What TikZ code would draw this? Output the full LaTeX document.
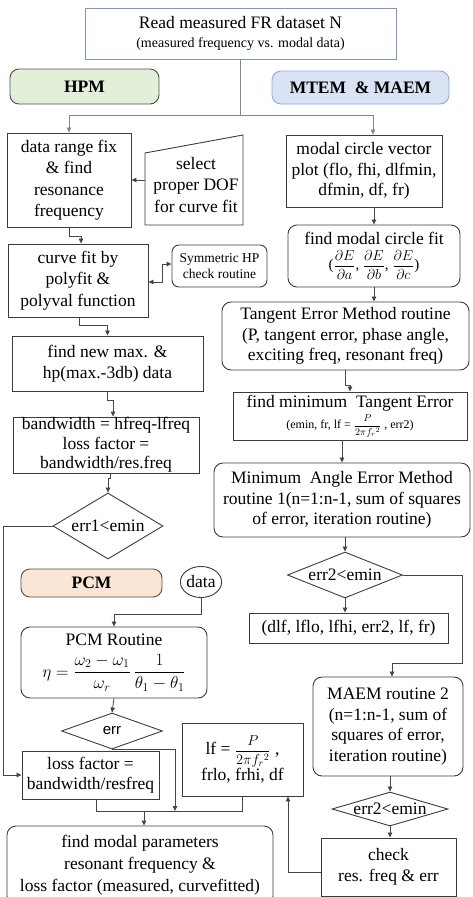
\documentclass[tikz,border=0pt]{standalone}
\usepackage{amsmath}
\usepackage{fontspec}
\setmainfont{Liberation Serif}
\newfontfamily\sansfam{Liberation Sans}
\usetikzlibrary{shapes.geometric,arrows.meta,calc}

\definecolor{topblue}{RGB}{122,150,200}
\definecolor{hpmgreen}{RGB}{226,240,217}
\definecolor{mtemblue}{RGB}{218,227,243}
\definecolor{mtemedge}{RGB}{143,170,220}
\definecolor{pcmpeach}{RGB}{251,229,214}
\definecolor{boxgray}{RGB}{60,60,60}
\definecolor{linegray}{RGB}{70,70,70}
\definecolor{topline}{RGB}{135,135,135}

\tikzset{
  sz/.style 2 args={minimum width=#1pt, minimum height=#2pt},
  box/.style={draw=boxgray, line width=0.9pt, inner sep=0pt, align=center,
              font=\fontsize{17.5}{20.5}\selectfont},
  rbox/.style={box, rounded corners=9pt},
  dia/.style={box, diamond},
  conn/.style={draw=linegray, line width=0.8pt},
  arr/.style={conn, -{Triangle[length=5pt,width=4.5pt]}},
  arrboth/.style={conn, {Triangle[length=5pt,width=4.5pt]}-{Triangle[length=5pt,width=4.5pt]}},
  small/.style={font=\fontsize{13.5}{16}\selectfont},
}

\begin{document}
\begin{tikzpicture}[x=1pt,y=-1pt]
\useasboundingbox (0,0) rectangle (473,897);

% ---------- header ----------
\node[box, draw=topblue, sz={311}{51}] (top) at (240.5,33.5)
  {Read measured FR dataset N\\[-1pt]{\fontsize{14}{16}\selectfont (measured frequency vs. modal data)}};
\node[rbox, fill=hpmgreen, draw=boxgray!90, sz={149}{35}] (hpm) at (84.5,86.5) {\textbf{HPM}};
\node[rbox, fill=mtemblue, draw=mtemedge, sz={177}{33}] (mtem) at (360.5,87.5) {\textbf{MTEM\ \ \& MAEM}};

% ---------- half power method (left) ----------
\node[box, sz={124}{94}, font=\fontsize{17.5}{21.5}\selectfont] (dr) at (69,180)
  {data range fix\\\& find\\resonance\\frequency};
\draw[box] (145,153) -- (243,135) -- (243,225) -- (145,225) -- cycle;
\node[align=center, inner sep=0pt, font=\fontsize{17.5}{21.5}\selectfont] (sel) at (196,185)
  {select\\proper DOF\\for curve fit};
\coordinate (selw) at (145,180);
\node[box, sz={140}{73}, font=\fontsize{17.5}{21.5}\selectfont] (cf) at (78,280.5)
  {curve fit by\\polyfit \&\\polyval function};
\node[rbox, small, sz={95}{42}, rounded corners=7pt] (sym) at (219.5,266) {Symmetric HP\\check routine};
\node[box, sz={191}{55}] (nm) at (107.5,363.5) {find new max. \&\\hp(max.-3db) data};
\node[box, sz={186}{56}, font=\fontsize{17.5}{19.5}\selectfont] (bw) at (106,445)
  {bandwidth = hfreq-lfreq\\loss factor =\\bandwidth/res.freq};
\node[dia, sz={110}{66}, shape aspect=1.67] (d1) at (108,526) {err1<emin};

% ---------- phase change method ----------
\node[rbox, fill=pcmpeach, draw=boxgray!90, sz={141}{28}] (pcm) at (91.5,583) {\textbf{PCM}};
\node[box, ellipse, sz={40}{31}] (data) at (201,582) {data};
\node[rbox, sz={186}{71}] (pcmr) at (114,662.5)
  {PCM Routine\\[8pt]{\fontsize{18.5}{22}\selectfont
   $\eta = \dfrac{\omega_2-\omega_1}{\omega_r}\,\dfrac{1}{\theta_1-\theta_1}$}};
\node[dia, sz={101}{36}, shape aspect=2.8, font=\sansfam\fontsize{15}{17}\selectfont] (err) at (112,731) {err};
\node[box, sz={137}{48}] (lfac) at (90.5,775) {loss factor =\\bandwidth/resfreq};
\node[box, sz={121}{73}] (lf) at (242.5,759.5)
  {lf = {\fontsize{14}{16}\selectfont$\dfrac{P}{2\pi f_r{}^{2}}$} ,\\frlo, frhi, df};
\node[rbox, sz={266}{79}, font=\fontsize{17.5}{22}\selectfont] (fin) at (140,865.5)
  {find modal parameters\\resonant frequency \&\\loss factor (measured, curvefitted)};

% ---------- tangent / angle error methods (right) ----------
\node[box, sz={156}{72}] (mcv) at (364,171) {modal circle vector\\plot (flo, fhi, dlfmin,\\dfmin, df, fr)};
\node[rbox, sz={172}{62}] (mcf) at (374,256)
  {find modal circle fit\\[5pt]{\fontsize{15}{17}\selectfont($\dfrac{\partial E}{\partial a}$, $\dfrac{\partial E}{\partial b}$, $\dfrac{\partial E}{\partial c}$)}};
\node[rbox, sz={247}{68}] (tem) at (345.5,336)
  {Tangent Error Method routine\\(P, tangent error, phase angle,\\exciting freq, resonant freq)};
\node[box, sz={234}{48}] (mte) at (350,416)
  {find minimum\ \ Tangent Error\\[1pt]{\fontsize{12}{14}\selectfont (emin,\ fr, lf = {\fontsize{10}{12}\selectfont$\dfrac{P}{2\pi f_r{}^{2}}$} , err2)}};
\node[rbox, sz={256}{74}] (mae) at (342,500)
  {Minimum\ \ Angle Error Method\\routine 1(n=1:n-1, sum of squares\\of error, iteration routine)};
\node[dia, sz={115}{46}, shape aspect=2.5] (d2) at (345,575) {err2<emin};
\node[box, sz={199}{30}] (res) at (348.5,628) {(dlf, lflo, lfhi, err2, lf, fr)};
\node[rbox, sz={150}{99}] (maem) at (388,726.5)
  {MAEM routine 2\\(n=1:n-1, sum of\\squares of error,\\iteration routine)};
\node[dia, sz={116}{34}, shape aspect=3.4] (d3) at (390,809) {err2<emin};
\node[box, sz={135}{58}] (chk) at (388.5,867) {check\\res. freq \& err};

% ---------- connectors ----------
\draw[draw=topline, line width=0.8pt] (top.south) -- ++(0,56) coordinate (tj);
\draw[arr, draw=topline] (tj) -| (dr.north);
\draw[arr, draw=topline] (tj) -| ([xshift=9pt]mcv.north);

\draw[arr] (selw) -- (dr.east);
\draw[arr] (dr.south) -- ++(0,9) -| ([xshift=3pt]cf.north);
\draw[arrboth] ([yshift=-1.5pt]cf.east) -- ++(14,0) |- ([yshift=2pt]sym.west);
\draw[arr] ([xshift=1pt]cf.south) -- ++(0,8) -| (nm.north);
\draw[arr] (nm.south) -- ++(0,9) -| ([xshift=7pt]bw.north);
\draw[arr] ([xshift=4pt]bw.south) -- ++(0,5) -| (d1.north);
\draw[arr] (d1.west) -- ++(-49,0) |- (lfac.west);

\draw[arr] (data.south) -- ++(0,16) -| (pcmr.north);
\draw[arr] (pcmr.south) -- (err.north);
\coordinate (jn) at (144,811);
\draw[arr] (err.south) -| ($(jn)+(31,0)$);
\draw[conn] ([xshift=5.5pt]lfac.south) |- (jn) -| (lf.south);
\draw[arr] (jn) -- (jn |- fin.north);

\draw[arr] (mcv.south -| mcf.north) -- (mcf.north);
\draw[arr] (mcf.south) -- (mcf.south |- tem.north);
\draw[arr] (tem.south) -- ++(0,15) -| (mte.north);
\draw[arr] (mte.south -| mae.north) -- (mae.north);
\draw[arr] (mae.south -| d2.north) -- (d2.north);
\draw[arr] (d2.south) -- (d2.south |- res.north);
\draw[arr] (d2.east) -| ++(59.5,88) -| ([xshift=4pt]maem.north);
\draw[arr] (maem.south -| d3.north) -- (d3.north);
\draw[arr] (d3.south) -- (d3.south |- chk.north);
\draw[arr] ([yshift=-5pt]chk.west) -| ([xshift=45.5pt]lf.south);
\end{tikzpicture}
\end{document}
